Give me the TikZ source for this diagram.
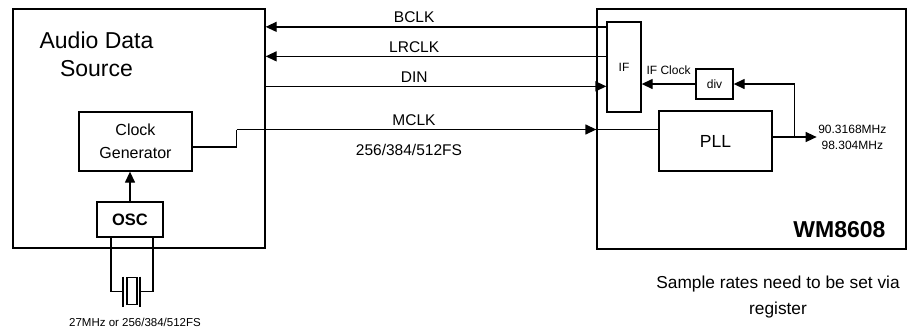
\documentclass[tikz,border=0pt]{standalone}
\usepackage{fontspec}
\setmainfont{Liberation Sans}
\usepackage{tikz}
\usetikzlibrary{arrows.meta,positioning,calc}

\begin{document}
\begin{tikzpicture}[
    x=1pt, y=-1pt,
    every node/.style={font=\fontsize{15.5}{18}\selectfont},
    block/.style={rectangle, draw=black, line width=1.3pt, inner sep=0pt, text centered},
    wire/.style={line width=1.3pt, draw=black},
    arrow/.style={wire, -{Triangle[length=11pt,width=10pt]}},
    lbl/.style={font=\fontsize{15.5}{18}\selectfont}
]
\useasboundingbox (0,0) rectangle (909,333);

% Outer blocks
\node[block, minimum width=252pt, minimum height=239pt] (src) at (139,128.5) {};
\node[block, minimum width=309pt, minimum height=240pt] (wm) at (751.5,129) {};
\node[align=center, font=\fontsize{23}{28}\selectfont] (srctxt) at (96.5,54) {Audio Data\\Source};
\node[anchor=base east, inner sep=0pt, font=\fontsize{23}{28}\selectfont\bfseries] (wmtxt)
    at ([xshift=-21pt,yshift=12.5pt]wm.south east) {WM8608};

% Audio data source internals
\node[block, minimum width=113pt, minimum height=59pt, align=center, font=\fontsize{16}{23}\selectfont] (clk) at (135.5,141.5) {Clock\\Generator};
\node[block, minimum width=66pt, minimum height=35pt, font=\fontsize{16.5}{20}\selectfont\bfseries] (osc) at (130,219.5) {OSC};
\draw[arrow] (osc.north) -- (osc.north |- clk.south);

% Crystal
\begin{scope}[shift={(osc.south)}]
\draw[wire] (-19,0) |- (-7,54);
\draw[wire] (23,0) |- (10,54);
\draw[wire] (-7,39) -- (-7,69);
\draw[wire] (10,39) -- (10,69);
\draw[wire] (-3,40) rectangle (7,67);
\end{scope}
\node[font=\fontsize{11.5}{14}\selectfont] (xtal) at ([xshift=5pt,yshift=-85pt]osc.south) {27MHz or 256/384/512FS};

% WM8608 internals
\node[block, minimum width=34pt, minimum height=90pt, font=\fontsize{12}{14}\selectfont] (ifb) at (624,67) {IF};
\node[block, minimum width=37pt, minimum height=30pt, font=\fontsize{12}{14}\selectfont] (div) at (714.5,84) {div};
\node[block, minimum width=113pt, minimum height=60pt, font=\fontsize{17.5}{20}\selectfont] (pll) at (715.5,141) {PLL};

% Interface lines
\coordinate (bclk) at ([yshift=-5.5pt]ifb.north west);
\coordinate (lrclk) at ([yshift=-35pt]ifb.north west);
\coordinate (din) at ([yshift=-65pt]ifb.north west);
\draw[arrow, {Triangle[length=11pt,width=10pt]}-] (src.east |- bclk) -- (bclk) node[lbl, pos=0.436, above] {BCLK};
\draw[arrow, {Triangle[length=11pt,width=10pt]}-] (src.east |- lrclk) -- (lrclk) node[lbl, pos=0.436, above] {LRCLK};
\draw[arrow] (src.east |- din) -- (din) node[lbl, pos=0.436, above] {DIN};

% Master clock
\coordinate (mclk) at ([yshift=11.5pt]pll.west);
\coordinate (mstep) at ($(clk.east |- mclk)+(44,0)$);
\draw[wire] ([yshift=-5.5pt]clk.east) -| (mstep);
\draw[arrow] (mstep) -- (wm.west |- mclk)
    node[lbl, pos=0.493, above] {MCLK}
    node[lbl, pos=0.479, below=11pt] {256/384/512FS};
\draw[wire] (wm.west |- mclk) -- (mclk);

% PLL output and divider loop
\coordinate (pllout) at ([yshift=4pt]pll.east);
\coordinate (tap) at ($(pllout)+(22,0)$);
\draw[wire] (pllout) -- (tap);
\draw[arrow] (tap) -- ++(22,0) node[right, inner sep=1pt, align=center, font=\fontsize{12}{16}\selectfont] (freq) {90.3168MHz\\98.304MHz};
\draw[arrow] (tap) |- (div.east);
\draw[arrow] (div.west) -- (ifb.east |- div.west) node[midway, above=5pt, font=\fontsize{12}{14}\selectfont] {IF Clock};

% Note
\node[align=center, font=\fontsize{17.3}{26}\selectfont] (note) at ([xshift=26.5pt,yshift=-47pt]wm.south) {Sample rates need to be set via\\register};

\end{tikzpicture}
\end{document}
